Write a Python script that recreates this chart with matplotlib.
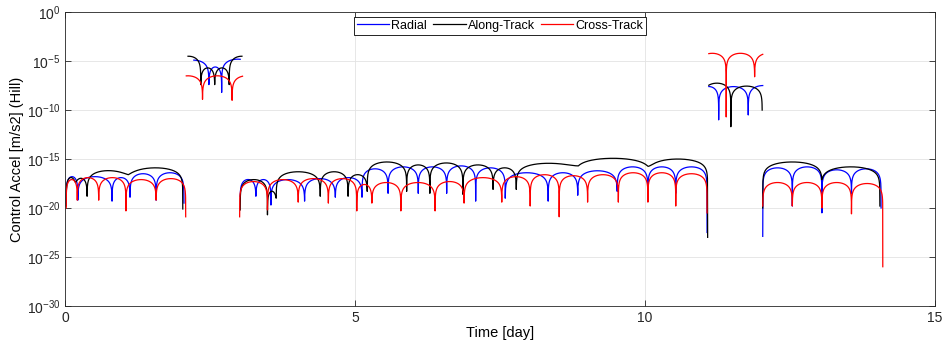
import numpy as np
import matplotlib.pyplot as plt

# Values are log10 of the acceleration.
# Each trace is a chain of arcs: *_t are the dip times [day],
# *_dip the log10 value at each dip, *_peak the log10 height of each arc.

# segment A, day 0 - 2
rad_a_t = [0.02, 0.22, 0.81, 1.12, 1.57, 2.05]
rad_a_dip = [-19.5, -19.2, -19.3, -18.9, -19.2, -19.5]
rad_a_peak = [-16.8, -16.8, -16.9, -16.5, -16.4]
alg_a_t = [0.02, 0.18, 0.38, 1.09, 2.03]
alg_a_dip = [-19.8, -17.4, -18.8, -16.6, -20.1]
alg_a_peak = [-16.9, -17.0, -16.2, -15.9]
crs_a_t = [0.02, 0.21, 0.58, 1.05, 1.57, 2.08]
crs_a_dip = [-20.0, -19.2, -19.2, -20.3, -19.2, -20.9]
crs_a_peak = [-17.1, -16.9, -16.9, -17.1, -17.0]

# segment B, day 2 - 3 (burn)
rad_b_t = [1.95, 2.48, 2.70, 3.25]
rad_b_dip = [-7.0, -7.4, -8.2, -7.0]
rad_b_peak = [-4.9, -5.6, -4.8]
rad_b_span = (2.22, 3.02)
alg_b_t = [1.92, 2.34, 2.58, 2.83, 3.26]
alg_b_dip = [-7.0, -7.4, -7.4, -7.4, -7.0]
alg_b_peak = [-4.5, -5.7, -5.7, -4.5]
alg_b_span = (2.12, 3.05)
crs_b_t = [1.87, 2.37, 2.88, 3.38]
crs_b_dip = [-9.0, -8.9, -9.0, -9.0]
crs_b_peak = [-6.5, -6.5, -6.5]
crs_b_span = (2.09, 3.06)

# segment C, day 3 - 11
rad_c_t = [3.02, 3.29, 3.55, 4.13, 4.66, 5.12, 5.57, 6.09, 6.58, 7.08, 7.59,
           8.33, 8.84, 9.52, 10.05, 10.53, 11.07]
rad_c_dip = [-18.8, -18.8, -19.7, -19.3, -18.9, -18.9, -18.5, -18.5, -18.5,
             -19.3, -19.0, -19.3, -18.7, -18.3, -18.3, -18.5, -22.5]
rad_c_peak = [-17.1, -17.1, -17.1, -17.0, -16.9, -16.0, -15.8, -15.8, -15.7,
              -15.9, -16.4, -16.4, -16.2, -15.8, -15.8, -15.8]
alg_c_t = [3.02, 3.49, 3.64, 4.40, 4.88, 5.21, 5.89, 6.29, 6.86, 7.38, 7.78,
           8.85, 10.05, 11.08]
alg_c_dip = [-20.2, -20.7, -19.0, -18.8, -18.8, -18.3, -18.3, -18.5, -18.6,
             -18.1, -18.1, -15.7, -15.75, -23.0]
alg_c_peak = [-17.1, -18.3, -16.3, -16.3, -16.6, -15.3, -15.6, -15.4, -15.6,
              -15.9, -15.45, -15.0, -15.0]
crs_c_t = [3.01, 3.49, 4.02, 4.54, 5.03, 5.29, 5.79, 6.38, 6.88, 7.53, 8.02,
           8.52, 9.01, 9.54, 10.05, 10.53, 11.07]
crs_c_dip = [-20.9, -20.2, -19.4, -19.5, -20.3, -19.5, -20.3, -20.3, -19.5,
             -19.4, -19.8, -20.9, -19.4, -19.4, -19.4, -19.8, -20.5]
crs_c_peak = [-17.3, -17.1, -17.0, -17.0, -17.6, -17.4, -17.4, -17.3, -16.9,
              -16.8, -16.6, -16.7, -16.6, -16.4, -16.4, -16.5]

# segment D, day 11 - 12 (burn)
rad_d_t = [10.93, 11.27, 11.78, 12.29]
rad_d_dip = [-8.0, -11.0, -10.5, -8.0]
rad_d_peak = [-7.6, -7.6, -7.5]
rad_d_span = (11.10, 12.03)
alg_d_t = [11.00, 11.48, 12.02]
alg_d_dip = [-9.0, -11.7, -10.0]
alg_d_peak = [-7.25, -7.55]
alg_d_span = (11.10, 12.02)
crs_d_t = [10.92, 11.40, 11.89, 12.38]
crs_d_dip = [-6.0, -10.7, -6.6, -6.0]
crs_d_peak = [-4.2, -4.2, -4.2]
crs_d_span = (11.10, 12.03)

# segment E, day 12 - 14
rad_e_t = [12.03, 12.54, 13.05, 13.56, 14.07]
rad_e_dip = [-22.9, -19.8, -20.5, -18.5, -20.0]
rad_e_peak = [-15.9, -15.8, -16.1, -16.0]
alg_e_t = [12.03, 13.05, 14.05]
alg_e_dip = [-20.0, -17.1, -19.8]
alg_e_peak = [-15.3, -15.8]
crs_e_t = [12.03, 12.54, 13.05, 13.56, 14.10]
crs_e_dip = [-19.8, -19.8, -20.0, -20.6, -26.0]
crs_e_peak = [-17.4, -17.4, -17.4, -17.5]


def arcs(t, dip, peak, span=None):
    lo, hi = span if span else (t[0], t[-1])
    xs, ys = [], []
    for i in range(len(peak)):
        a, b = max(t[i], lo), min(t[i + 1], hi)
        if b <= a:
            continue
        x = np.linspace(a, b, 300)
        s = (x - t[i]) / (t[i + 1] - t[i])
        floor = 10 ** (dip[i] + (dip[i + 1] - dip[i]) * s)
        xs.append(x)
        ys.append(10 ** peak[i] * np.sin(np.pi * s) + floor)
    return np.concatenate(xs), np.concatenate(ys)


def trace(*segs):
    xs, ys = [], []
    for seg in segs:
        x, y = arcs(*seg)
        xs += [x, [np.nan]]
        ys += [y, [np.nan]]
    return np.concatenate(xs), np.concatenate(ys)


plt.rcParams['font.family'] = ['Liberation Sans', 'DejaVu Sans']
plt.rcParams['mathtext.default'] = 'regular'
plt.rcParams['axes.unicode_minus'] = False

fig = plt.figure(figsize=(9.43, 3.48), dpi=100)
ax = fig.add_axes([0.069, 0.121, 0.9225, 0.844])

x, y = trace((rad_a_t, rad_a_dip, rad_a_peak),
             (rad_b_t, rad_b_dip, rad_b_peak, rad_b_span),
             (rad_c_t, rad_c_dip, rad_c_peak),
             (rad_d_t, rad_d_dip, rad_d_peak, rad_d_span),
             (rad_e_t, rad_e_dip, rad_e_peak))
ax.semilogy(x, y, color='#0000ff', lw=0.9, label='Radial')

x, y = trace((alg_a_t, alg_a_dip, alg_a_peak),
             (alg_b_t, alg_b_dip, alg_b_peak, alg_b_span),
             (alg_c_t, alg_c_dip, alg_c_peak),
             (alg_d_t, alg_d_dip, alg_d_peak, alg_d_span),
             (alg_e_t, alg_e_dip, alg_e_peak))
ax.semilogy(x, y, color='k', lw=0.9, label='Along-Track')

x, y = trace((crs_a_t, crs_a_dip, crs_a_peak),
             (crs_b_t, crs_b_dip, crs_b_peak, crs_b_span),
             (crs_c_t, crs_c_dip, crs_c_peak),
             (crs_d_t, crs_d_dip, crs_d_peak, crs_d_span),
             (crs_e_t, crs_e_dip, crs_e_peak))
ax.semilogy(x, y, color='#ff0000', lw=0.9, label='Cross-Track')

ax.set_xlim(0, 15)
ax.set_ylim(1e-30, 1e0)
ax.set_xticks([0, 5, 10, 15])
ax.set_yticks([10.0 ** k for k in range(-30, 1, 5)])
ax.minorticks_off()
ax.tick_params(direction='in', top=True, right=True, labelsize=10,
               length=4, width=0.6, colors='#262626')
ax.grid(True, color='#e3e3e3', lw=0.6)
ax.set_axisbelow(True)
for sp in ax.spines.values():
    sp.set_color('#262626')
    sp.set_linewidth(0.6)

ax.set_xlabel('Time [day]', fontsize=10.5, labelpad=1)
ax.set_ylabel('Control Accel [m/s2] (Hill)', fontsize=10.5, labelpad=2)

leg = ax.legend(loc='upper center', bbox_to_anchor=(0.5, 0.985), ncol=3,
                fontsize=9, fancybox=False, edgecolor='k', framealpha=1,
                handlelength=2.6, handletextpad=0.15, columnspacing=0.5,
                borderpad=0.25, borderaxespad=0)
leg.get_frame().set_linewidth(0.6)

fig.savefig('out.png', dpi=100)
